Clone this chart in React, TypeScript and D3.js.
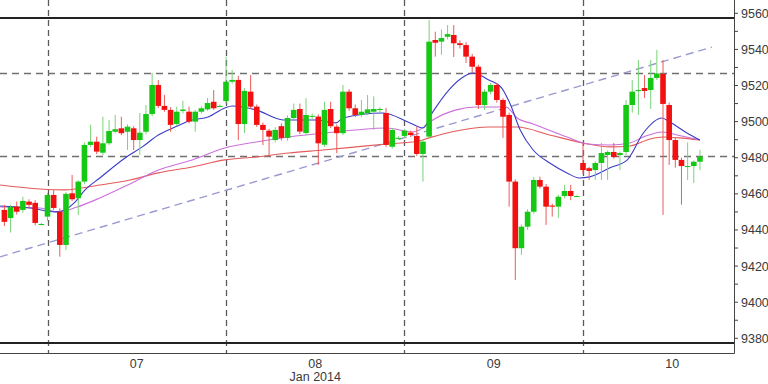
import React from 'react';
import * as d3 from 'd3';

// ---- data ----
const FIRST_INDEX = -7;
// O, H, L, C for each candle starting at index FIRST_INDEX
const opens = [
  9451.1, 9446.6, 9452.9, 9451.1, 9455.7, 9455.0, 9443.3,
  9447.4, 9459.4, 9450.1, 9431.7, 9460.3, 9457.6, 9466.8, 9487.1, 9488.9, 9482.8,
  9488.0, 9494.4, 9496.3, 9494.4, 9496.3, 9489.8, 9494.4, 9504.2, 9520.3, 9508.7,
  9506.5, 9498.7, 9505.9, 9505.5, 9500.0, 9505.5, 9506.8, 9511.0, 9508.7,
  9511.4, 9522.1, 9523.1, 9498.7, 9516.6, 9508.3, 9498.2, 9495.0, 9489.8, 9497.5,
  9491.0, 9502.0, 9507.0, 9493.7, 9502.8, 9502.8, 9487.2, 9507.0, 9497.2, 9493.6,
  9516.6, 9507.4, 9503.7, 9504.6, 9505.5, 9506.5, 9504.8, 9486.1, 9491.0,
  9492.1, 9493.9, 9492.1, 9482.1, 9491.7, 9545.2, 9544.3, 9547.0, 9548.0, 9543.4,
  9542.4, 9536.0, 9530.4, 9509.2, 9516.6, 9520.3, 9512.0, 9503.7, 9466.8, 9429.9,
  9441.8, 9450.1, 9467.7, 9464.0, 9453.5, 9452.9, 9458.8, 9461.6, 9458.8,
  9477.1, 9474.2, 9473.2, 9477.1, 9481.5, 9483.2, 9481.5, 9483.2, 9509.2, 9517.5,
  9518.6, 9517.5, 9524.2, 9526.4, 9509.2, 9489.8, 9478.8, 9475.4, 9475.4, 9477.8,
];
const highs = [
  9453.9, 9454.0, 9455.7, 9458.4, 9457.0, 9456.5, 9444.0,
  9460.5, 9462.2, 9452.0, 9461.0, 9470.5, 9467.5, 9488.5, 9498.2, 9491.7, 9502.7,
  9500.9, 9503.7, 9502.7, 9498.5, 9497.5, 9504.8, 9509.2, 9526.9, 9523.0, 9514.8,
  9508.0, 9508.3, 9511.5, 9508.3, 9506.5, 9508.5, 9513.1, 9517.5, 9509.5,
  9536.0, 9528.6, 9525.3, 9518.5, 9525.8, 9509.5, 9499.5, 9496.0, 9497.0, 9499.0,
  9503.5, 9510.0, 9510.0, 9513.0, 9504.5, 9504.0, 9511.0, 9511.0, 9498.5, 9520.3,
  9518.0, 9509.5, 9512.0, 9514.8, 9514.0, 9508.0, 9507.6, 9496.5, 9492.0,
  9496.0, 9495.0, 9497.2, 9490.0, 9556.3, 9549.8, 9551.0, 9553.5, 9553.5, 9545.0,
  9544.0, 9537.5, 9531.5, 9518.0, 9521.5, 9521.5, 9513.0, 9505.0, 9468.0, 9443.0,
  9451.5, 9469.4, 9469.5, 9465.5, 9454.5, 9459.5, 9465.0, 9465.0, 9459.2,
  9488.2, 9475.0, 9478.0, 9488.2, 9484.0, 9488.2, 9483.5, 9512.0, 9523.0, 9534.1,
  9525.8, 9534.1, 9539.7, 9534.1, 9510.5, 9491.0, 9480.0, 9488.5, 9478.5, 9484.3,
];
const lows = [
  9442.2, 9438.6, 9448.5, 9449.5, 9452.0, 9442.5, 9442.8,
  9445.0, 9451.0, 9425.2, 9428.9, 9456.0, 9448.3, 9465.5, 9486.0, 9482.0, 9481.5,
  9487.0, 9493.5, 9492.5, 9484.3, 9484.3, 9481.5, 9493.0, 9503.0, 9507.5, 9505.5,
  9494.4, 9497.5, 9504.5, 9499.0, 9494.4, 9504.5, 9506.0, 9506.5, 9508.0,
  9510.0, 9521.0, 9489.8, 9493.7, 9507.0, 9497.0, 9487.0, 9480.6, 9488.5, 9489.5,
  9489.5, 9501.0, 9493.0, 9492.5, 9501.5, 9476.0, 9486.0, 9496.5, 9482.5, 9492.5,
  9506.0, 9502.5, 9502.5, 9503.5, 9495.4, 9505.0, 9486.0, 9485.0, 9490.0,
  9491.0, 9491.5, 9481.0, 9466.8, 9490.5, 9536.0, 9537.0, 9545.5, 9535.8, 9540.5,
  9532.5, 9527.0, 9507.0, 9506.5, 9515.0, 9510.5, 9491.0, 9452.9, 9412.3, 9426.2,
  9440.0, 9449.0, 9463.0, 9442.8, 9447.4, 9446.7, 9457.5, 9456.6, 9458.4,
  9471.0, 9467.7, 9467.7, 9467.7, 9467.7, 9479.5, 9473.2, 9481.5, 9505.0, 9503.7,
  9513.1, 9507.0, 9523.0, 9448.4, 9476.0, 9474.5, 9454.0, 9467.7, 9466.0, 9473.2,
];
const closes = [
  9444.5, 9452.7, 9450.1, 9456.1, 9453.9, 9443.9, 9443.3,
  9459.4, 9452.2, 9431.7, 9460.0, 9457.0, 9466.8, 9487.1, 9488.9, 9483.4, 9488.0,
  9494.8, 9495.8, 9493.6, 9497.2, 9489.8, 9493.9, 9504.2, 9520.3, 9508.7, 9506.5,
  9498.2, 9505.5, 9506.7, 9500.0, 9505.5, 9507.4, 9510.3, 9507.4, 9508.7,
  9522.1, 9523.1, 9498.7, 9517.0, 9508.3, 9498.2, 9495.4, 9491.7, 9495.4, 9491.0,
  9502.0, 9506.5, 9494.5, 9503.7, 9503.2, 9488.0, 9506.5, 9497.5, 9493.6, 9516.6,
  9507.4, 9503.7, 9505.5, 9506.8, 9507.0, 9507.0, 9487.1, 9495.4, 9491.0,
  9495.0, 9492.6, 9482.1, 9488.9, 9544.3, 9543.7, 9546.3, 9548.5, 9543.4, 9542.4,
  9536.0, 9530.4, 9509.2, 9516.6, 9520.3, 9512.0, 9502.7, 9466.8, 9429.9, 9441.8,
  9450.1, 9467.7, 9464.0, 9452.9, 9452.9, 9458.4, 9461.6, 9458.8, 9458.8,
  9473.2, 9472.7, 9477.1, 9482.6, 9483.2, 9480.4, 9482.6, 9509.2, 9516.6, 9517.5,
  9517.0, 9524.2, 9526.7, 9509.8, 9489.8, 9478.8, 9475.4, 9475.4, 9477.8, 9480.6,
];

// moving averages: [bar index, price]
const maFast: [number, number][] = [
  [-7.7, 9453.3], [-2.8, 9452.2], [1.2, 9450.0], [2.8, 9451.1], [4.5, 9455.5], [6.1, 9462.2],
  [8.5, 9468.8], [12.6, 9479.9], [15.4, 9486.0], [18.0, 9492.6], [20.7, 9497.0], [23.5, 9500.9],
  [26.1, 9502.6], [28.8, 9507.6], [30.0, 9508.7], [33.9, 9506.5], [38.3, 9500.9], [43.6, 9500.9],
  [46.9, 9499.3], [48.0, 9502.0], [54.5, 9504.8], [58.9, 9499.3], [61.0, 9496.5], [62.6, 9505.4],
  [65.2, 9517.5], [67.3, 9524.2], [69.1, 9526.9], [71.7, 9523.1], [73.8, 9518.6], [75.1, 9510.3],
  [76.8, 9495.4], [78.9, 9484.3], [81.6, 9477.1], [84.4, 9471.6], [86.4, 9468.8], [88.1, 9469.4],
  [91.4, 9474.4], [94.2, 9478.8], [96.8, 9493.7], [99.8, 9502.0], [101.1, 9499.8], [103.9, 9493.7],
  [106.0, 9489.8],
];
const maMid: [number, number][] = [
  [-7.7, 9452.7], [-1.2, 9452.2], [1.7, 9450.0], [4.8, 9452.7], [8.5, 9457.7], [13.4, 9465.5],
  [18.0, 9473.2], [23.5, 9478.8], [28.8, 9485.4], [33.9, 9488.7], [39.2, 9491.5], [44.8, 9493.7],
  [50.1, 9495.4], [55.0, 9496.5], [59.4, 9494.3], [60.4, 9495.4], [62.6, 9500.9], [66.4, 9506.5],
  [69.6, 9508.1], [74.5, 9508.1], [76.3, 9502.0], [78.9, 9498.7], [84.4, 9491.5], [87.7, 9487.6],
  [91.4, 9487.1], [94.6, 9488.2], [96.8, 9491.5], [100.0, 9494.3], [102.3, 9492.6], [106.0, 9489.8],
];
const maSlow: [number, number][] = [
  [-7.7, 9464.9], [-1.2, 9462.7], [2.8, 9462.2], [8.5, 9464.9], [13.4, 9467.7], [18.0, 9471.6],
  [23.5, 9474.9], [28.8, 9478.8], [33.9, 9480.4], [39.2, 9482.6], [44.8, 9484.3], [50.1, 9486.0],
  [55.0, 9487.6], [60.4, 9489.3], [62.0, 9491.0], [66.4, 9494.8], [71.7, 9497.0], [76.3, 9497.0],
  [81.6, 9492.6], [87.0, 9488.2], [91.4, 9486.0], [94.6, 9486.5], [97.9, 9490.4], [100.0, 9491.5],
  [102.6, 9491.0], [106.0, 9489.8],
];

const trendLine: [number, number][] = [[-7.72, 9425.1], [107.96, 9541.3]];
const solidLevels = [9557.4, 9377.5];
const dashedLevels = [9527.0, 9481.0];
const daySeparators = [0, 29, 58, 87];
const dayLabelPos = [14.5, 43.5, 72.5, 101.5];
const dayLabels = ['07', '08', '09', '10'];
const monthLabel = 'Jan 2014';
const monthLabelPos = 43.5;
const yLabels = [9380, 9400, 9420, 9440, 9460, 9480, 9500, 9520, 9540, 9560];

export default function App() {
  const W = 768, H = 384;
  const plotRight = 734, plotBottom = 353;
  const x = d3.scaleLinear().domain([0, 87]).range([47.5, 583]);
  const y = d3.scaleLinear().domain([9380, 9560]).range([338.3, 13.3]);
  const font = '"Liberation Sans", Arial, sans-serif';

  const line = d3.line<[number, number]>()
    .x(d => x(d[0]))
    .y(d => y(d[1]))
    .curve(d3.curveMonotoneX);

  const bodyW = 5.6;
  const green = '#14c814', red = '#f21010';
  const greenWick = '#78d478', redWick = '#ee5a5a';

  const minorTicks = y.ticks(18);

  return (
    <svg width={W} height={H} style={{ position: 'absolute', left: 0, top: 0, background: '#fff' }}
      xmlns="http://www.w3.org/2000/svg">
      <defs>
        <clipPath id="plot">
          <rect x={0} y={0} width={plotRight} height={plotBottom} />
        </clipPath>
      </defs>
      <rect x={0} y={0} width={W} height={H} fill="#fff" />
      <g clipPath="url(#plot)">
        {daySeparators.map((d, k) => (
          <line key={'v' + k} x1={Math.round(x(d)) + 0.5} x2={Math.round(x(d)) + 0.5} y1={0} y2={plotBottom}
            stroke="#5a5a5a" strokeWidth={1.3} strokeDasharray="6,4" />
        ))}
        {dashedLevels.map((v, k) => (
          <line key={'h' + k} x1={0} x2={plotRight} y1={Math.round(y(v)) + 0.5} y2={Math.round(y(v)) + 0.5}
            stroke="#707070" strokeWidth={1.5} strokeDasharray="7,5" />
        ))}
        {solidLevels.map((v, k) => (
          <line key={'s' + k} x1={0} x2={plotRight} y1={Math.round(y(v))} y2={Math.round(y(v))}
            stroke="#222" strokeWidth={2} />
        ))}
        <path d={line(trendLine) || ''} fill="none" stroke="#9a9ad2" strokeWidth={1.4} strokeDasharray="8,5" />
        <path d={line(maSlow) || ''} fill="none" stroke="#e45a5a" strokeWidth={1.1} />
        <path d={line(maMid) || ''} fill="none" stroke="#cc70dc" strokeWidth={1.1} />
        <path d={line(maFast) || ''} fill="none" stroke="#3c3cc8" strokeWidth={1.1} />
        {opens.map((o, k) => {
          const idx = FIRST_INDEX + k;
          const c = closes[k];
          const up = c >= o;
          const cx = x(idx);
          const yTop = y(Math.max(o, c));
          const yBot = y(Math.min(o, c));
          const hgt = Math.max(1, yBot - yTop);
          return (
            <g key={'c' + k}>
              <line x1={cx} x2={cx} y1={y(highs[k])} y2={y(lows[k])}
                stroke={up ? greenWick : redWick} strokeWidth={1} />
              <rect x={cx - bodyW / 2} y={yTop} width={bodyW} height={hgt} fill={up ? green : red} />
            </g>
          );
        })}
      </g>
      {/* frame */}
      <line x1={plotRight + 0.5} x2={plotRight + 0.5} y1={0} y2={plotBottom + 0.5} stroke="#444" strokeWidth={1} />
      <line x1={0} x2={plotRight + 0.5} y1={plotBottom + 0.5} y2={plotBottom + 0.5} stroke="#444" strokeWidth={1} />
      {minorTicks.map((t, k) => (
        <line key={'t' + k} x1={plotRight} x2={plotRight + 4} y1={y(t)} y2={y(t)} stroke="#444" strokeWidth={1} />
      ))}
      {yLabels.map((t, k) => (
        <text key={'yl' + k} x={741} y={y(t)} dy="0.36em" fontFamily={font} fontSize={12.5} fill="#3a3a3a">{t}</text>
      ))}
      {dayLabels.map((l, k) => (
        <text key={'dl' + k} x={x(dayLabelPos[k])} y={367.5} textAnchor="middle" fontFamily={font} fontSize={12.5} fill="#3a3a3a">{l}</text>
      ))}
      <text x={x(monthLabelPos)} y={381} textAnchor="middle" fontFamily={font} fontSize={12.5} fill="#3a3a3a">{monthLabel}</text>
    </svg>
  );
}
